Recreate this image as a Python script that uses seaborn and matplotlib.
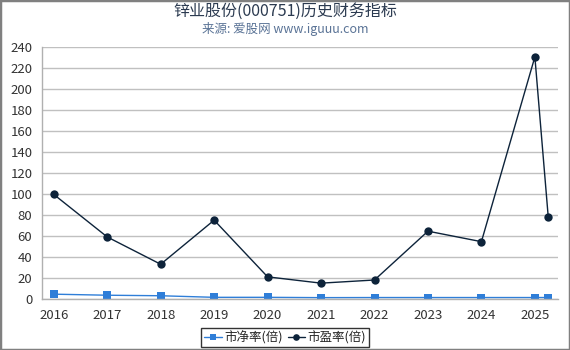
import matplotlib
matplotlib.use("Agg")
import matplotlib.pyplot as plt
import seaborn as sns
import pandas as pd

years = [2016, 2017, 2018, 2019, 2020, 2021, 2022, 2023, 2024, 2025, 2025.25]
pb = [4.5, 3.5, 3.0, 1.5, 1.5, 1.2, 1.3, 1.3, 1.3, 1.3, 1.3]
pe = [99.5, 59.0, 33.0, 75.0, 21.0, 15.0, 18.0, 64.5, 54.5, 230.5, 78.0]
xticks = [2016, 2017, 2018, 2019, 2020, 2021, 2022, 2023, 2024, 2025]
yticks = list(range(0, 241, 20))
title = "锌业股份(000751)历史财务指标"
subtitle = "来源: 爱股网 www.iguuu.com"
labels = ["市净率(倍)", "市盈率(倍)"]

sns.set_theme(style="white")
plt.rcParams['font.family'] = ['Noto Sans CJK SC', 'DejaVu Sans']

fig = plt.figure(figsize=(5.7, 3.5), dpi=100)
ax = fig.add_axes([0.0737, 0.146, 0.905, 0.72])

df = pd.DataFrame({"year": years, "pb": pb, "pe": pe})
sns.lineplot(data=df, x="year", y="pb", ax=ax, color="#2f7ed8", marker="s",
             markersize=6, markeredgewidth=0, linewidth=1, label=labels[0])
sns.lineplot(data=df, x="year", y="pe", ax=ax, color="#0d233a", marker="o",
             markersize=6, markeredgewidth=0, linewidth=1, label=labels[1])

ax.set_xlim(2015.78, 2025.43)
ax.set_ylim(0, 240)
ax.set_xticks(xticks)
ax.set_xticklabels([str(x) for x in xticks])
ax.set_yticks(yticks)
ax.set_xlabel("")
ax.set_ylabel("")
ax.grid(axis="y", color="#c0c0c0", linewidth=1)
ax.grid(axis="x", visible=False)
for s in ["top", "right"]:
    ax.spines[s].set_visible(False)
for s in ["left", "bottom"]:
    ax.spines[s].set_color("#b0b0b0")
    ax.spines[s].set_linewidth(1)
ax.tick_params(axis="both", colors="#333333", labelsize=9.5, length=5,
               width=1, direction="out", pad=2)
ax.tick_params(axis="both", color="#b0b0b0")

handles, lbls = ax.get_legend_handles_labels()
ax.get_legend().remove()
leg = fig.legend(handles, lbls, loc="upper center", bbox_to_anchor=(0.5, 0.064),
                 ncol=2, frameon=True, fontsize=9, handlelength=1.4,
                 handletextpad=0.2, columnspacing=0.4, borderpad=0.25,
                 borderaxespad=0, markerscale=0.8, fancybox=False)
leg.get_frame().set_edgecolor("black")
leg.get_frame().set_linewidth(1)

fig.text(0.5, 0.968, title, ha="center", va="center", fontsize=11.5, color="#2b3a50")
fig.text(0.5, 0.918, subtitle, ha="center", va="center", fontsize=9, color="#5a7396")

border = plt.Rectangle((0, 0), 1, 1, transform=fig.transFigure, fill=False,
                       edgecolor="#808080", linewidth=2.5)
fig.patches.append(border)

fig.savefig("out.png", dpi=100)
